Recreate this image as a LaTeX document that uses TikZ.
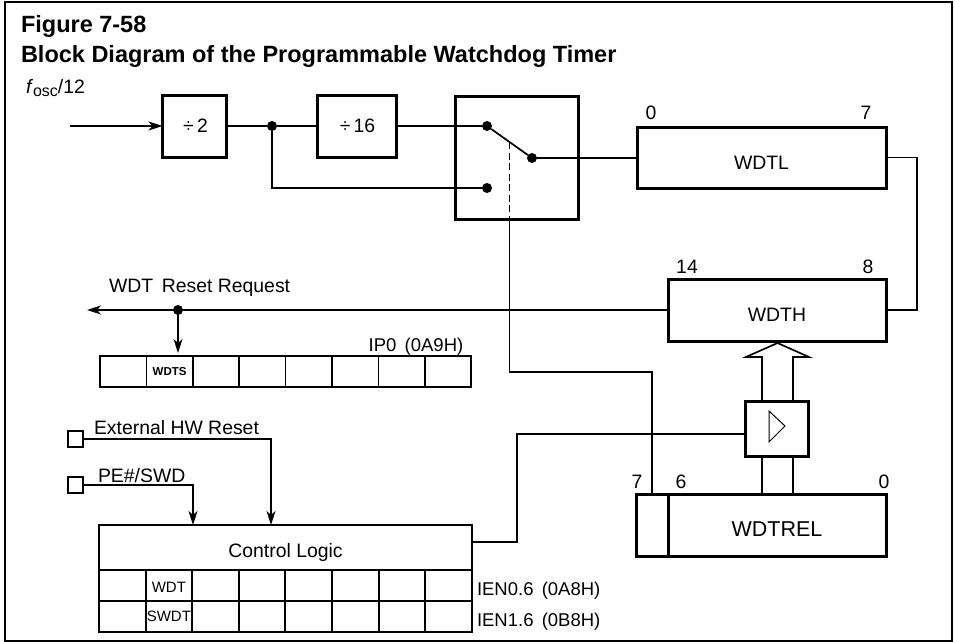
\documentclass[tikz,border=0pt]{standalone}
\usepackage{fontspec}
\setmainfont{Liberation Sans}
\usetikzlibrary{positioning,arrows.meta,calc}
\tikzset{
  wd/.style={x=1pt,y=-1pt,>={Stealth[length=14pt,width=9pt,inset=4pt]},on grid,line width=1.5pt,
    every node/.style={font=\fontsize{19.4}{21}\selectfont,inner sep=0pt,outer sep=0pt}},
  blk/.style={draw,line width=3pt,fill=white,align=center},
  cell/.style={draw,line width=1.7pt,minimum width=46.4pt,minimum height=31pt},
  pad/.style={draw,line width=1.7pt,minimum size=15.5pt},
  jdot/.style={circle,fill=black,minimum size=10pt},
  ttl/.style={font=\fontsize{23.5}{26}\selectfont\bfseries,anchor=base west},
  lbl/.style={anchor=base},
  txt/.style={anchor=base west},
}
\begin{document}
\begin{tikzpicture}[wd]
  \useasboundingbox (0,0) rectangle (955,642);
  \draw[line width=1.3pt] (5,2) rectangle (952,641);
  \node[ttl] (fig) at (21,33) {Figure 7-58};
  \node[ttl] (title) at (21,63) {Block Diagram of the Programmable Watchdog Timer};
  \node[txt] (fosc) at (26,93) {\textit{f}\raisebox{-3pt}{\fontsize{16}{18}\selectfont osc}/12};
  % counter chain
  \node[blk,minimum width=64pt,minimum height=62pt] (div2) at (194.5,126) {};
  \node[blk,minimum width=79pt,minimum height=62pt] (div16) [right=162pt of div2] {};
  \node[blk,minimum width=123pt,minimum height=123pt] (sw) [below right=31.5pt and 160pt of div16] {};
  \node[blk,minimum width=249pt,minimum height=61pt] (wdtl) [right=245pt of sw] {};
  \node[blk,minimum width=218pt,minimum height=62pt] (wdth) [below right=152.5pt and 15.5pt of wdtl] {};
  \node[blk,minimum width=63pt,minimum height=55pt] (buf) [below=118.5pt of wdth] {};
  \node[blk,minimum width=218pt,minimum height=62pt] (rel) [below=96.5pt of buf] {};
  \node[blk,minimum width=32pt,minimum height=62pt] (relbit) [left=125pt of rel] {};
  \node (div2t) [right=1pt of div2] {÷\,2};
  \node (div16t) [right=1pt of div16] {÷\,16};
  \node (wdtlt) [below=5pt of wdtl] {WDTL};
  \node (wdtht) [below=5pt of wdth] {WDTH};
  \node[font=\fontsize{21.5}{24}\selectfont] (relt) [below=4pt of rel] {WDTREL};
  % switch contacts
  \node[jdot] (swa) at (487,126) {};
  \node[jdot] (swb) at (487,188) {};
  \node[jdot] (swc) at (532,158) {};
  \coordinate (swm) at ($(swa)!0.5!(swc)$);
  \coordinate (in) at (70,126);
  \coordinate (out) at (87,310);
  % bit numbers
  \node[lbl] (l0) at (651,119) {0};
  \node[lbl] (l7) at (866,119) {7};
  \node[lbl] (l14) at (687,273) {14};
  \node[lbl] (l8) at (868,273) {8};
  \node[lbl] (r7) at (637,488) {7};
  \node[lbl] (r6) at (681,488) {6};
  \node[lbl] (r0) at (884,488) {0};
  % status registers
  \foreach \i in {0,...,7}{
    \node[cell] (ip\i) at ({100+46.4*(\i+.5)},371.5) {};
    \node[cell] (en\i) at ({99+46.6*(\i+.5)},585.5) {};
    \node[cell] (sw\i) at ({99+46.6*(\i+.5)},616.5) {};
  }
  \node[font=\fontsize{11.5}{13}\selectfont\bfseries] (wdts) at (ip1) {WDTS};
  \node[font=\fontsize{15}{17}\selectfont] (wdt) [below=2pt of en1] {WDT};
  \node[font=\fontsize{15}{17}\selectfont] (swdt) at (sw1) {SWDT};
  \node[lbl,font=\fontsize{18.5}{21}\selectfont] (ip) at (416,351) {IP0\, (0A9H)};
  \node[cell,minimum width=373pt,minimum height=45pt] (ctl) at (285.5,547.5) {};
  \node (ctlt) [below=5pt of ctl] {Control Logic};
  \node[txt,font=\fontsize{18.5}{21}\selectfont] (ien0) at (477,595) {IEN0.6\, (0A8H)};
  \node[txt,font=\fontsize{18.5}{21}\selectfont] (ien1) at (477,626) {IEN1.6\, (0B8H)};
  % pins
  \node[pad] (hw) at (75.5,439) {};
  \node[pad] (pe) at (75.5,485) {};
  \node[txt] (hwl) at (94,434) {External HW Reset};
  \node[txt] (pel) at (98,482) {PE\#/SWD};
  \node[txt] (req) at (109,292) {WDT\,\ Reset Request};
  \coordinate (hwin) at (271,525);
  \coordinate (pein) at (193,525);
  % wiring
  \node[jdot] (j1) at (272,126) {};
  \node[jdot] (j2) at (178,310) {};
  \draw[->] (in) -- (div2);
  \draw (div2) -- (j1) -- (div16);
  \draw (div16.east) -- (swa);
  \draw (j1) |- (swb);
  \draw[line width=1.7pt] (swa) -- (swc);
  \draw (swc) -- (wdtl.west |- swc);
  \draw[dash pattern=on 7pt off 3.5pt] (swm) -- (swm |- sw.south);
  \draw (swm |- sw.south) |- (relbit.north |- 0,372) -- (relbit.north);
  \draw (wdtl.east) -- ++(31,0) |- (wdth.east);
  \draw[->] (wdth.west) -- (out);
  \draw[->,shorten >=3pt] (j2) -- (ip1.north -| j2);
  \draw[->] (hw.east) -| (hwin);
  \draw[->] (pe.east) -| (pein);
  \draw (ctl.east |- 0,542) -- (517,542) |- (buf.west |- 0,434);
  % bus
  \draw[line width=1.7pt] (762,402) -- (762,357) -- (746,357) -- (777.5,343) -- (809,357) -- (793,357) -- (793,402);
  \draw[line width=1.7pt] (762,457) -- (762,495) (793,457) -- (793,495);
  \draw[line width=1pt] (769,411) -- (769,442) -- (785,426) -- cycle;
\end{tikzpicture}
\end{document}
